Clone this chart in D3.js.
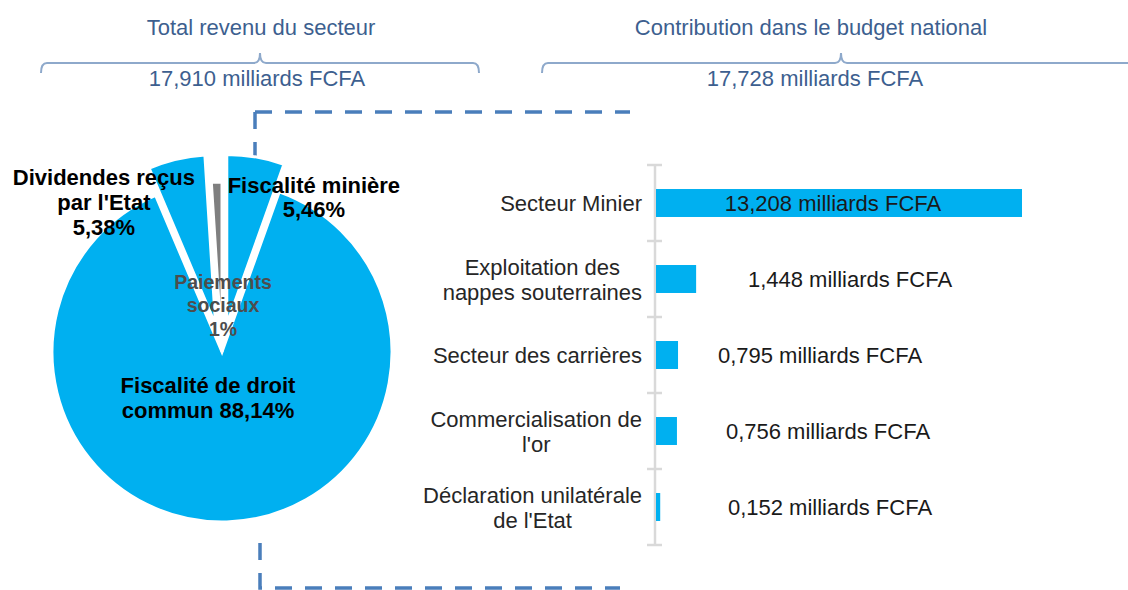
<!DOCTYPE html>
<html>
<head>
<meta charset="utf-8">
<script src="https://cdn.jsdelivr.net/npm/d3@7"></script>
<style>
  body { margin: 0; background: #fff; }
  svg { display: block; font-family: "Liberation Sans", Arial, sans-serif; }
</style>
</head>
<body>
<svg id="chart" width="1128" height="590"></svg>
<script>
// ---- data ----
var sliceNames = ["Fiscalité minière", "Fiscalité de droit commun", "Dividendes reçus par l'Etat", "Paiements sociaux"];
var sliceValues = [5.46, 88.14, 5.38, 1];
var sliceExploded = [true, false, true, false];

var barCategories = ["Secteur Minier", "Exploitation des nappes souterraines", "Secteur des carrières", "Commercialisation de l'or", "Déclaration unilatérale de l'Etat"];
var barCategoryLines = [["Secteur Minier"], ["Exploitation des", "nappes souterraines"], ["Secteur des carrières"], ["Commercialisation de", "l'or"], ["Déclaration unilatérale", "de l'Etat"]];
var barValues = [13.208, 1.448, 0.795, 0.756, 0.152];

var headerTitles = ["Total revenu du secteur", "Contribution dans le budget national"];
var headerTotals = [17.910, 17.728];
var unitLabel = "milliards FCFA";

// ---- layout ----
var svg = d3.select("#chart");
var blue = "#00b0f0", grey = "#7f7f7f", headColor = "#3d5f8f", braceColor = "#8ea9cb", dashColor = "#4a7ebb";
var cx = 222, cy = 352, radius = 170, explode = 28;

var fr = d3.formatLocale({decimal: ",", thousands: " ", grouping: [3], currency: ["", ""]});
var pct = fr.format(".2~f"), num = fr.format(".3f");

svg.append("rect").attr("width", 1128).attr("height", 590).attr("fill", "#fff");

// header braces + texts
var braces = [{x0: 41, x1: 479, tx: 261}, {x0: 542, x1: 1140, tx: 811}];
var braceY = 63;
braces.forEach(function(b, i){
  var m = (b.x0 + b.x1) / 2;
  var p = d3.path();
  p.moveTo(b.x0, braceY + 10);
  p.quadraticCurveTo(b.x0, braceY, b.x0 + 6, braceY);
  p.lineTo(m - 6, braceY);
  p.quadraticCurveTo(m, braceY, m, braceY - 10);
  p.quadraticCurveTo(m, braceY, m + 6, braceY);
  p.lineTo(b.x1 - 6, braceY);
  p.quadraticCurveTo(b.x1, braceY, b.x1, braceY + 10);
  svg.append("path")
    .attr("d", p.toString())
    .attr("fill", "none")
    .attr("stroke", braceColor)
    .attr("stroke-width", 2);

  svg.append("text")
    .attr("x", b.tx)
    .attr("y", 35)
    .attr("text-anchor", "middle")
    .attr("font-size", 22)
    .attr("fill", headColor)
    .text(headerTitles[i]);

  svg.append("text")
    .attr("x", b.tx + (i == 0 ? -4 : 4))
    .attr("y", 86)
    .attr("text-anchor", "middle")
    .attr("font-size", 22)
    .attr("fill", headColor)
    .text(num(headerTotals[i]) + " " + unitLabel);
});

// dashed connectors (drawn first so the pie hides the top one)
var dash = "17,13";
svg.append("line").attr("x1", 255).attr("y1", 112).attr("x2", 630).attr("y2", 112)
  .attr("stroke", dashColor).attr("stroke-width", 3.5).attr("stroke-dasharray", dash);
svg.append("line").attr("x1", 255).attr("y1", 112).attr("x2", 255).attr("y2", 230)
  .attr("stroke", dashColor).attr("stroke-width", 3.5).attr("stroke-dasharray", dash);
svg.append("path").attr("d", "M260,543L260,588L620,588")
  .attr("fill", "none").attr("stroke", dashColor).attr("stroke-width", 3.5).attr("stroke-dasharray", dash);

// pie
var pie = d3.pie().sort(null).value(function(d){ return d; });
var arcs = pie(sliceValues);
var arc = d3.arc().innerRadius(0).outerRadius(radius);

var pieG = svg.append("g").attr("transform", "translate(" + cx + "," + cy + ")");
pieG.selectAll("path")
  .data(arcs)
  .enter()
  .append("path")
    .attr("d", arc)
    .attr("transform", function(d, i){
      if(!sliceExploded[i]) return null;
      var a = (d.startAngle + d.endAngle) / 2;
      return "translate(" + (explode * Math.sin(a)) + "," + (-explode * Math.cos(a)) + ")";
    })
    .attr("fill", function(d, i){ return i == 3 ? grey : blue; })
    .attr("stroke", "#fff")
    .attr("stroke-width", 3);

// pie labels: polar position (deg, px) from pie centre, line layout
var pieLabelLayout = [
  {angle: 30.7, r: 180, lines: ["Fiscalité minière", "%p"], size: 22, lh: 24, color: "#000"},
  {angle: -162.9, r: 47.6, lines: ["Fiscalité de droit", "commun %p"], size: 22, lh: 25, color: "#000"},
  {angle: -38.2, r: 191, lines: ["Dividendes reçus", "par l'Etat", "%p"], size: 22, lh: 25, color: "#000"},
  {angle: 1.2, r: 47, lines: ["Paiements", "sociaux", "%p"], size: 19.5, lh: 23.5, color: "#4d4d4d"}
];
pieLabelLayout.forEach(function(L, i){
  var a = L.angle * Math.PI / 180;
  var lx = cx + L.r * Math.sin(a), ly = cy - L.r * Math.cos(a);
  var t = svg.append("text")
    .attr("text-anchor", "middle")
    .attr("font-size", L.size)
    .attr("font-weight", "bold")
    .attr("fill", L.color);
  L.lines.forEach(function(s, j){
    t.append("tspan")
      .attr("x", lx)
      .attr("y", ly + L.size * 0.36 + (j - (L.lines.length - 1) / 2) * L.lh)
      .text(s.replace("%p", pct(sliceValues[i]) + "%"));
  });
});

// bar chart
var xScale = d3.scaleLinear()
  .domain([0, d3.max(barValues)])
  .range([656, 1022]);

var yScale = d3.scaleBand()
  .domain(barCategories)
  .range([165, 545])
  .paddingInner(0.632)
  .paddingOuter(0.316);

var axisX = 655;
var step = yScale.step();
svg.append("line")
  .attr("x1", axisX).attr("x2", axisX)
  .attr("y1", yScale.range()[0]).attr("y2", yScale.range()[1])
  .attr("stroke", "#d9d9d9").attr("stroke-width", 2.5);
svg.selectAll(".tick-mark")
  .data(d3.range(barCategories.length + 1))
  .enter()
  .append("line")
    .attr("class", "tick-mark")
    .attr("x1", axisX - 8).attr("x2", axisX + 7)
    .attr("y1", function(d){ return yScale.range()[0] + d * step; })
    .attr("y2", function(d){ return yScale.range()[0] + d * step; })
    .attr("stroke", "#d9d9d9").attr("stroke-width", 2.5);

svg.selectAll(".bar")
  .data(barValues)
  .enter()
  .append("rect")
    .attr("class", "bar")
    .attr("x", xScale(0))
    .attr("y", function(d, i){ return yScale(barCategories[i]); })
    .attr("width", function(d){ return xScale(d) - xScale(0); })
    .attr("height", yScale.bandwidth())
    .attr("fill", blue);

// value labels (hand-placed in the original, so small nudges per row)
var labelX = (xScale.range()[0] + xScale.range()[1]) / 2 - 6;
var labelNudge = [0, 17, -13, -5, -3];
svg.selectAll(".bar-label")
  .data(barValues)
  .enter()
  .append("text")
    .attr("class", "bar-label")
    .attr("x", function(d, i){ return labelX + labelNudge[i]; })
    .attr("y", function(d, i){ return yScale(barCategories[i]) + yScale.bandwidth() / 2 + 8; })
    .attr("text-anchor", "middle")
    .attr("font-size", 22)
    .attr("fill", "#1a1a1a")
    .text(function(d){ return num(d) + " " + unitLabel; });

// category labels: block right-aligned to the axis, lines centred inside
var catRight = 642;
barCategoryLines.forEach(function(lines, i){
  var mid = yScale(barCategories[i]) + yScale.bandwidth() / 2;
  var t = svg.append("text")
    .attr("text-anchor", "middle")
    .attr("font-size", 22)
    .attr("fill", "#262626");
  var spans = lines.map(function(s, j){
    return t.append("tspan")
      .attr("y", mid + 8 + (j - (lines.length - 1) / 2) * 25)
      .text(s);
  });
  var w = d3.max(spans, function(s){ return s.node().getComputedTextLength(); });
  spans.forEach(function(s){ s.attr("x", catRight - w / 2); });
});
</script>
</body>
</html>
